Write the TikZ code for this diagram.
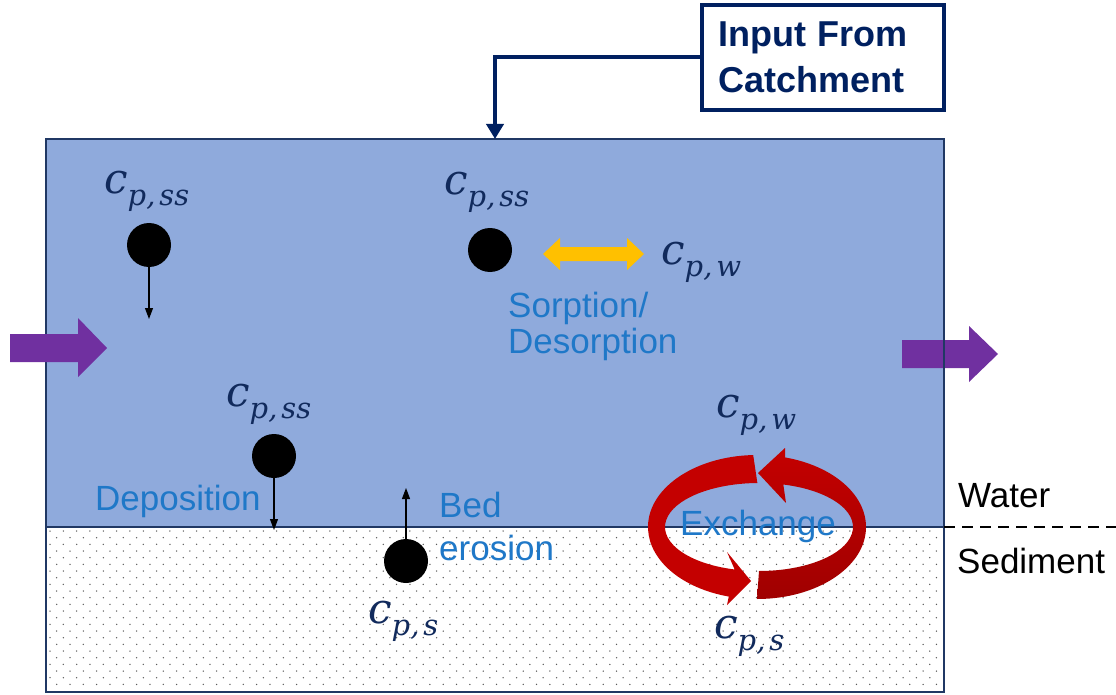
\documentclass[tikz,border=0pt]{standalone}
\usepackage{fontspec}
\setmainfont{Liberation Sans}
\newfontfamily\mfont{DejaVu Serif}
\usetikzlibrary{arrows.meta,calc}
\definecolor{water}{HTML}{8FAADC}
\definecolor{navy}{HTML}{203864}
\definecolor{boxnavy}{HTML}{002060}
\definecolor{lblue}{HTML}{1F78C8}
\definecolor{mathc}{HTML}{112A5C}
\definecolor{purp}{HTML}{7030A0}
\definecolor{gold}{HTML}{FFC000}
\definecolor{ringred}{HTML}{C40000}
\definecolor{ringdark}{HTML}{A00000}
\newcommand{\cvar}[1]{{\fontsize{42}{44}\selectfont\mfont\itshape c}\raisebox{-12pt}{\fontsize{29}{30}\selectfont\mfont\itshape #1}}
\begin{document}
\begin{tikzpicture}[x=1pt,y=-1pt,
  mathlbl/.style={inner sep=0pt, anchor=base west, text=mathc},
  bluelbl/.style={inner sep=0pt, anchor=base west, text=lblue, font=\fontsize{35}{36}\selectfont},
  blacklbl/.style={inner sep=0pt, anchor=base west, text=black, font=\fontsize{35}{36}\selectfont},
  particle/.style={circle, fill=black, minimum size=44pt, inner sep=0pt},
  flux/.style={line width=1.1pt, -{Triangle[width=8pt,length=11pt]}},
  conn/.style={boxnavy, line width=4pt, -{Triangle[width=17pt,length=15pt]}},
  bigarrow/.style={fill=purp},
]
\useasboundingbox (0,0) rectangle (1116,695);
% water and sediment
\fill[water] (46,139) rectangle (944,527);
\fill[white] (46,527) rectangle (944,692);
\foreach \k in {0,...,23} {
  \pgfmathsetmacro\yy{531+6.67*\k}
  \pgfmathsetmacro\off{mod(\k,2)*6.67}
  \foreach \i in {0,...,66} { \fill[black!65] (50+13.33*\i+\off,\yy) circle[radius=0.75]; }
}
% right outflow arrow (behind border)
\fill[bigarrow] (902,340) -- (969,340) -- (969,326) -- (998,354) -- (969,382) -- (969,368) -- (902,368) -- cycle;
\draw[navy, line width=1.5pt] (46,139) rectangle (944,692);
\draw[navy, line width=1.5pt] (46,527) -- (944,527);
\draw[black, line width=2.5pt, dash pattern=on 11pt off 7pt] (944,527) -- (1116,527);
% left inflow arrow
\fill[bigarrow] (10,334) -- (78,334) -- (78,318) -- (107,348) -- (78,377) -- (78,362) -- (10,362) -- cycle;
% layer labels
\node[blacklbl] (water) at (958,507) {Water};
\node[blacklbl] (sed) at (957,573) {Sediment};
% input box
\node[draw=boxnavy, line width=4pt, minimum width=242pt, minimum height=105pt, text width=210pt, inner xsep=16pt, align=left, text=boxnavy, font=\bfseries\fontsize{36}{46}\selectfont] (input) at (823,57.5) {Input From\\Catchment};
\coordinate (inlet) at (495,139);
\draw[conn] (input.west) -| (inlet);
% particles
\node[particle] (p1) at (149,245) {};
\node[particle] (p2) at (490,250) {};
\node[particle] (p3) at (274,456) {};
\node[particle] (p4) at (406,561) {};
\coordinate (p1end) at (149,319);
\coordinate (p3end) at (274,530);
\coordinate (p4end) at (406,488);
\draw[flux] (p1.south) -- (p1end);
\draw[flux] (p3.south) -- (p3end);
\draw[flux] (p4.north) -- (p4end);
% sorption arrow
\fill[gold] (543,254) -- (560,238) -- (560,247) -- (627,247) -- (627,238) -- (644,254) -- (627,270) -- (627,261) -- (560,261) -- (560,270) -- cycle;
% math labels
\node[mathlbl] (l1) at (104,194) {\cvar{p,\hspace{4pt}ss}};
\node[mathlbl] (l2) at (444,195) {\cvar{p,\hspace{4pt}ss}};
\node[mathlbl] (l3) at (661,264) {\cvar{p,\hspace{4pt}w}};
\node[mathlbl] (l4) at (226,406) {\cvar{p,\hspace{4pt}ss}};
\node[mathlbl] (l5) at (368,623) {\cvar{p,\hspace{4pt}s}};
\node[mathlbl] (l6) at (716,417) {\cvar{p,\hspace{4pt}w}};
\node[mathlbl] (l7) at (714,638) {\cvar{p,\hspace{4pt}s}};
% blue labels
\node[bluelbl] (sorp) at (508,317) {Sorption/};
\node[bluelbl] (desorp) at (508,353) {Desorption};
\node[bluelbl] (depo) at (95,510) {Deposition};
\node[bluelbl] (bed) at (439,517) {Bed};
\node[bluelbl] (eros) at (439,560) {erosion};
% exchange ring
\coordinate (rc) at (757,527);
\coordinate (ric) at (759,527);
\shade[top color=ringred, bottom color=ringdark]
  ($(rc)+(90:109 and 72)$) arc[start angle=90, end angle=-75, x radius=109, y radius=72]
  -- (785,448) -- (758,473) -- (786,503)
  -- ($(ric)+(-75:94 and 44)$) arc[start angle=-75, end angle=90, x radius=94, y radius=44] -- cycle;
\fill[ringred]
  ($(rc)+(-92:109 and 72)$) arc[start angle=-92, end angle=-255, x radius=109, y radius=72]
  -- (727,605) -- (751,581) -- (727,552)
  -- ($(ric)+(-255:94 and 44)$) arc[start angle=-255, end angle=-91, x radius=94, y radius=44] -- cycle;
\node[bluelbl] (exch) at (680,535) {Exchange};
\end{tikzpicture}
\end{document}
